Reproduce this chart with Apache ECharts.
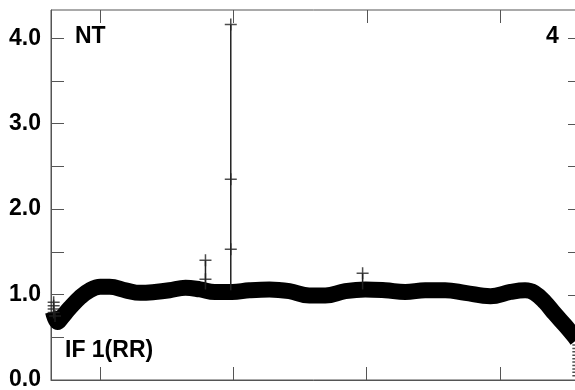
<!DOCTYPE html>
<html>
<head>
<meta charset="utf-8">
<script src="https://cdn.jsdelivr.net/npm/echarts@6/dist/echarts.min.js"></script>
<style>
html,body{margin:0;padding:0;background:#fff;}
#c{width:575px;height:390px;}
</style>
</head>
<body>
<div id="c"></div>
<script>
// Channel axis (arbitrary channel numbers), amplitude axis
const xMin = 0, xMax = 398, yMin = 0, yMax = 4.33;
const xTicks = [37, 137, 237, 337];
const yTicks = [0, 0.5, 1, 1.5, 2, 2.5, 3, 3.5, 4];
const yLabels = [0, 1, 2, 3, 4];

// Main bandpass band (channel, amplitude)
const bandCh  = [1.5, 5, 8, 14, 22, 29, 37, 44, 56, 67, 78, 89, 101, 112, 123, 136, 149, 164, 179, 194, 206, 221, 236, 251, 266, 281, 296, 311, 330, 345, 356, 363, 371, 378, 386, 392, 395];
const bandVal = [0.80, 0.68, 0.73, 0.84, 0.97, 1.05, 1.09, 1.09, 1.05, 1.02, 1.03, 1.05, 1.08, 1.06, 1.03, 1.03, 1.05, 1.06, 1.04, 0.99, 0.99, 1.04, 1.06, 1.05, 1.03, 1.05, 1.05, 1.02, 0.98, 1.03, 1.05, 1.02, 0.91, 0.78, 0.64, 0.53, 0.47];

// Outlier spikes (vertical lines)
const spikeCh   = [135, 116, 234];
const spikeBase = [1.05, 1.06, 1.06];
const spikeTop  = [4.16, 1.40, 1.25];

// Individual crosses
const crossCh  = [135, 135, 135, 116, 116, 234, 2, 2, 2, 2, 3, 396, 396, 396, 396, 396, 396, 396, 396, 396, 396];
const crossVal = [4.16, 2.35, 1.53, 1.40, 1.18, 1.25, 0.91, 0.87, 0.83, 0.79, 0.75, 0.41, 0.37, 0.33, 0.29, 0.25, 0.21, 0.17, 0.13, 0.09, 0.05];

const labelTexts = { src: 'NT', panel: '4', ifl: 'IF 1(RR)' };

const axisColor = '#555';
const FONT = 'Liberation Sans, Arial, sans-serif';
const TICK = 13;
const chart = echarts.init(document.getElementById('c'));

const bandData = bandCh.map((c, i) => [c, bandVal[i]]);
const crossData = crossCh.map((c, i) => [c, crossVal[i]]);
const spikeSeries = spikeCh.map((c, i) => ({
  type: 'line',
  data: [[c, spikeBase[i]], [c, spikeTop[i]]],
  showSymbol: false, symbol: 'none',
  lineStyle: { color: '#222', width: 1.5 }, z: 3, silent: true
}));

const plus = 'path://M10.5,0 H13.5 V10.5 H24 V13.5 H13.5 V24 H10.5 V13.5 H0 V10.5 H10.5 Z';
const crisp = v => Math.round(v) + 0.5;

chart.setOption({
  animation: false,
  grid: { left: 51, top: 10, width: 530, height: 370, containLabel: false, outerBoundsMode: 'none',
          show: true, borderColor: axisColor, borderWidth: 1, backgroundColor: 'transparent' },
  xAxis: {
    type: 'value', min: xMin, max: xMax, position: 'bottom',
    axisLine: { show: true, onZero: false, lineStyle: { color: axisColor, width: 1 } },
    axisTick: { show: true, inside: true, length: TICK, customValues: xTicks, lineStyle: { color: axisColor, width: 1 } },
    axisLabel: { show: false },
    splitLine: { show: false }
  },
  yAxis: {
    type: 'value', min: yMin, max: yMax, position: 'left',
    axisLine: { show: true, onZero: false, lineStyle: { color: axisColor, width: 1 } },
    axisTick: { show: true, inside: true, length: TICK, customValues: yTicks, lineStyle: { color: axisColor, width: 1 } },
    axisLabel: {
      show: true, customValues: yLabels, margin: 10,
      formatter: v => Number(v).toFixed(1),
      color: '#000', fontSize: 23, fontWeight: 'bold', fontFamily: FONT
    },
    splitLine: { show: false }
  },
  graphic: [
    { type: 'text', left: 75, top: 25, style: { text: labelTexts.src, fontSize: 23, fontWeight: 'bold', fontFamily: FONT, fill: '#000' } },
    { type: 'text', left: 546, top: 25, style: { text: labelTexts.panel, fontSize: 23, fontWeight: 'bold', fontFamily: FONT, fill: '#000' } },
    { type: 'text', left: 65, top: 339, style: { text: labelTexts.ifl, fontSize: 23, fontWeight: 'bold', fontFamily: FONT, fill: '#000' } }
  ],
  series: [
    {
      type: 'line', data: bandData, smooth: 0.4, symbol: 'none',
      lineStyle: { color: '#000', width: 16, cap: 'butt', join: 'round' }, z: 2
    },
    ...spikeSeries,
    {
      type: 'scatter', data: crossData, symbol: plus, symbolSize: 12,
      itemStyle: { color: '#222' }, z: 4
    },
    // mirrored ticks on the top edge, placed through the axis scales
    {
      type: 'custom', silent: true, z: 1, clip: false,
      data: xTicks.map(v => [v, yMax]), encode: { x: 0, y: 1 },
      renderItem: (params, api) => {
        const p = api.coord([api.value(0), api.value(1)]);
        const x = crisp(p[0]), y = Math.round(p[1]);
        return { type: 'line', shape: { x1: x, y1: y, x2: x, y2: y + TICK }, style: { stroke: axisColor, lineWidth: 1 } };
      }
    },
    // mirrored ticks on the right edge
    {
      type: 'custom', silent: true, z: 1, clip: false,
      data: yTicks.map(v => [xMax, v]), encode: { x: 0, y: 1 },
      renderItem: (params, api) => {
        const p = api.coord([api.value(0), api.value(1)]);
        const x = Math.round(p[0]), y = crisp(p[1]);
        return { type: 'line', shape: { x1: x - TICK, y1: y, x2: x, y2: y }, style: { stroke: axisColor, lineWidth: 1 } };
      }
    }
  ]
});
</script>
</body>
</html>
